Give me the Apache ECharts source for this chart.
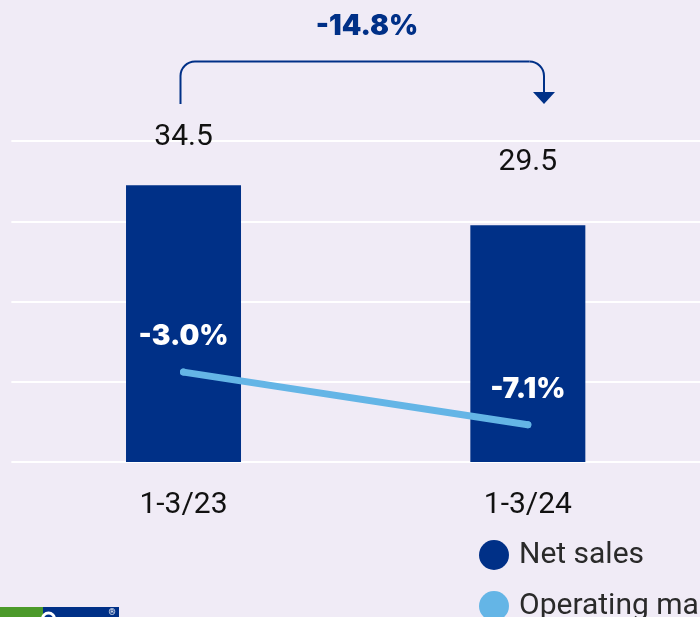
<!DOCTYPE html>
<html>
<head>
<meta charset="utf-8">
<style>
html,body{margin:0;padding:0;background:#f0ebf6;}
#c{width:700px;height:617px;}
</style>
<script src="https://cdn.jsdelivr.net/npm/echarts@6/dist/echarts.min.js"></script>
</head>
<body>
<div id="c"></div>
<script>
var categories = ['1-3/23', '1-3/24'];
var netSales = [34.5, 29.5];
var operatingMargin = [-3.0, -7.1];
var changeLabel = '-14.8%';
var seriesNames = ['Net sales', 'Operating margin'];

var NAVY = '#003087';
var LIGHT = '#64b5e6';
var FONT = 'Roboto';
var barLabelDist = [33, 48];

function legendAt(name, top) {
  return {
    orient: 'vertical', left: 474, top: top, icon: 'circle',
    itemWidth: 30, itemHeight: 30,
    textStyle: {fontFamily: FONT, fontSize: 30, color: '#2a2a2a', padding: [0, 0, 0, 5], lineHeight: 30},
    data: [name]
  };
}

var chart = echarts.init(document.getElementById('c'), null, {renderer: 'canvas'});
chart.setOption({
  backgroundColor: '#f0ebf6',
  animation: false,
  grid: {left: 11.35, width: 691.8, top: 141, bottom: 155, containLabel: false},
  legend: [legendAt(seriesNames[0], 535), legendAt(seriesNames[1], 586)],
  xAxis: {
    type: 'category', data: categories,
    axisLine: {show: false}, axisTick: {show: false},
    axisLabel: {fontFamily: FONT, fontSize: 30, color: '#111', margin: 28}
  },
  yAxis: [
    {type: 'value', min: 0, max: 40, interval: 10,
     axisLabel: {show: false}, axisLine: {show: false}, axisTick: {show: false},
     splitLine: {lineStyle: {color: '#ffffff', width: 2}}},
    {type: 'value', min: -10, max: 15, show: false, splitLine: {show: false}}
  ],
  series: [
    {
      name: seriesNames[0], type: 'bar', barWidth: 115,
      itemStyle: {color: NAVY},
      data: netSales.map(function (v, i) {
        return {value: v, label: {distance: barLabelDist[i]}};
      }),
      label: {show: true, position: 'top', fontFamily: FONT, fontSize: 30, color: '#111',
              formatter: function (p) { return p.value.toFixed(1); }}
    },
    {
      name: seriesNames[1], type: 'line', yAxisIndex: 1,
      data: operatingMargin, symbol: 'circle', symbolSize: 7, showSymbol: true,
      itemStyle: {color: LIGHT, borderWidth: 0},
      lineStyle: {color: LIGHT, width: 7, cap: 'round'},
      label: {show: true, position: 'top', distance: 18, fontFamily: 'Inter', fontWeight: 900,
              fontSize: 28, color: '#ffffff',
              formatter: function (p) { return p.value.toFixed(1) + '%'; }},
      z: 5
    }
  ],
  graphic: [
    {type: 'text', style: {
      text: changeLabel, x: 367, y: 27, textAlign: 'center', textVerticalAlign: 'middle',
      font: '900 28px Inter', fill: NAVY}},
    {type: 'line', shape: {x1: 180.5, y1: 104, x2: 180.5, y2: 76}, style: {stroke: NAVY, lineWidth: 2}},
    {type: 'arc', shape: {cx: 195, cy: 76, r: 14.5, startAngle: Math.PI, endAngle: Math.PI * 1.5, clockwise: true},
     style: {stroke: NAVY, lineWidth: 2, fill: null}},
    {type: 'line', shape: {x1: 195, y1: 61.5, x2: 529.5, y2: 61.5}, style: {stroke: NAVY, lineWidth: 2}},
    {type: 'arc', shape: {cx: 529.5, cy: 76, r: 14.5, startAngle: Math.PI * 1.5, endAngle: Math.PI * 2, clockwise: true},
     style: {stroke: NAVY, lineWidth: 2, fill: null}},
    {type: 'line', shape: {x1: 544, y1: 76, x2: 544, y2: 93}, style: {stroke: NAVY, lineWidth: 2}},
    {type: 'polygon', shape: {points: [[533, 92], [555, 92], [544, 104]]}, style: {fill: NAVY}},
    {type: 'rect', shape: {x: 0, y: 607, width: 43, height: 12}, style: {fill: '#4c9a2a'}},
    {type: 'rect', shape: {x: 43, y: 607, width: 76, height: 12}, style: {fill: NAVY}},
    {type: 'circle', shape: {cx: 48.5, cy: 619, r: 6}, style: {stroke: '#fff', lineWidth: 3, fill: null}},
    {type: 'text', style: {text: '®', x: 112, y: 613, textAlign: 'center', textVerticalAlign: 'middle',
      font: '9px ' + FONT, fill: '#fff'}}
  ]
});
</script>
</body>
</html>
